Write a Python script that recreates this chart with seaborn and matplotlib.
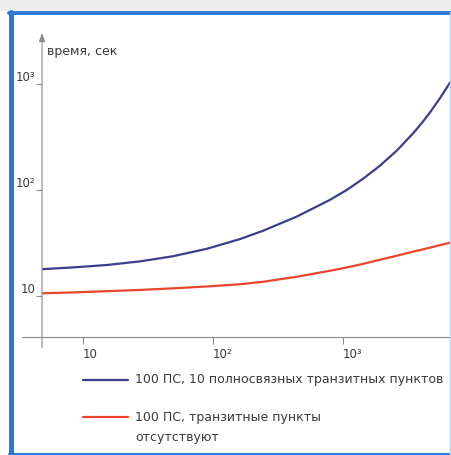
import numpy as np
import pandas as pd
import seaborn as sns
import matplotlib.pyplot as plt
from matplotlib.lines import Line2D

# Data (log-log)
hosts = [4.84, 8.38, 15.3, 27.4, 49.2, 89.9, 161, 242, 443, 794, 1074, 1426,
         1927, 2603, 3451, 4053, 4669, 5570, 6650]
time_mesh = [17.9, 18.6, 19.6, 21.2, 23.7, 27.9, 34.4, 41.2, 56.3, 80.8, 100.5, 127.8,
             170, 237, 342, 432, 541, 738, 1033]
time_none = [10.6, 10.8, 11.1, 11.4, 11.8, 12.3, 12.9, 13.6, 15.2, 17.3, 18.6, 20.1,
             22.0, 24.0, 26.2, 27.4, 28.6, 30.2, 31.8]

series_names = ["100 ПС, 10 полносвязных транзитных пунктов",
                "100 ПС, транзитные пункты отсутствуют"]
series_colors = ["#3b3e8e", "#e8452c"]

x_ticks = [10, 100, 1000]
x_tick_labels = ["10", "10²", "10³"]
y_ticks = [10, 100, 1000]
y_tick_labels = ["10", "10²", "10³"]
y_label = "время, сек"

df = pd.concat([
    pd.DataFrame({"hosts": hosts, "time": time_mesh, "series": series_names[0]}),
    pd.DataFrame({"hosts": hosts, "time": time_none, "series": series_names[1]}),
])

sns.set_style("white")
plt.rcParams['font.family'] = ['DejaVu Sans']
text_color = "#3a3a3a"
axis_color = "#8a8a8a"

W, H = 451, 455
fig = plt.figure(figsize=(W / 100, H / 100), dpi=100)
fig.patch.set_facecolor("white")

# axes box in pixels: left 42, right 451, top 33, bottom 337
ax = fig.add_axes([42 / W, 1 - 337 / H, 409 / W, 304 / H])
ax.set_facecolor("none")

sns.lineplot(data=df, x="hosts", y="time", hue="series", palette=series_colors,
             linewidth=1.6, legend=False, ax=ax)

ax.set_xscale("log")
ax.set_yscale("log")
ax.set_xlim(4.84, 6760)
ax.set_ylim(4.1, 3030)

for s in ax.spines.values():
    s.set_visible(False)

ax.set_xticks(x_ticks)
ax.set_xticklabels(x_tick_labels)
ax.set_yticks(y_ticks)
ax.set_yticklabels(y_tick_labels)
ax.minorticks_off()
ax.tick_params(axis="x", direction="out", length=5, width=0.8, color=axis_color,
               labelsize=8.5, labelcolor=text_color, pad=3, bottom=True)
ax.tick_params(axis="y", direction="out", length=4, width=0.8, color=axis_color,
               labelsize=8.5, labelcolor=text_color, pad=1, left=True)
for lab in ax.get_xticklabels():
    lab.set_horizontalalignment("left")
for lab in ax.get_yticklabels():
    lab.set_verticalalignment("bottom")
ax.set_xlabel("")
ax.set_ylabel("")

# axis lines with arrow on the y axis
ax.annotate("", xy=(0, 1.0), xytext=(0, -0.035), xycoords="axes fraction",
            arrowprops=dict(arrowstyle="-|>,head_length=0.5,head_width=0.18",
                            color=axis_color, lw=0.8, shrinkA=0, shrinkB=0))
ax.plot([-0.05, 1.0], [0, 0], transform=ax.transAxes, color=axis_color,
        lw=0.8, clip_on=False)

fig.text(47 / W, 1 - 52 / H, y_label, fontsize=9, color=text_color,
         ha="left", va="center")

# legend below the plot
leg_rows = [(380, [series_names[0]]), (417, ["100 ПС, транзитные пункты", "отсутствуют"])]
for (ypx, lines), col in zip(leg_rows, series_colors):
    fig.add_artist(Line2D([83 / W, 128 / W], [1 - ypx / H, 1 - ypx / H],
                          color=col, lw=1.6))
    for i, t in enumerate(lines):
        fig.text(135 / W, 1 - (ypx + 20 * i) / H, t, fontsize=9,
                 color=text_color, ha="left", va="center")

# blue frame around the figure
frame_col = "#2a7ad8"
fig.add_artist(plt.Rectangle((0, 1 - 10 / H), 1, 10 / H, transform=fig.transFigure,
                             color="#ececec", zorder=0))
fig.add_artist(Line2D([10.5 / W, 10.5 / W], [1 - 12 / H, 0], color=frame_col, lw=3.6))
fig.add_artist(Line2D([9 / W, 1], [1 - 13 / H, 1 - 13 / H], color=frame_col, lw=2.8))
fig.add_artist(Line2D([9 / W, 1], [1 - 453.5 / H, 1 - 453.5 / H], color=frame_col, lw=1.5))
fig.add_artist(Line2D([450 / W, 450 / W], [1 - 12 / H, 0], color="#b9d3f0", lw=1.0))

fig.savefig("out.png", dpi=100)
